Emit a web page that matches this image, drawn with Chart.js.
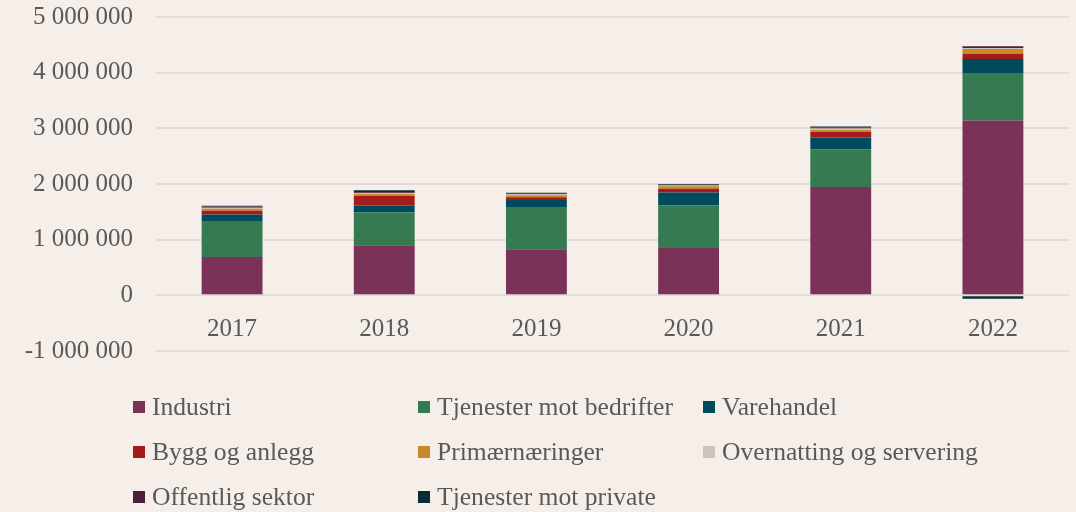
<!DOCTYPE html>
<html lang="no">
<head>
<meta charset="utf-8">
<title>Investeringer etter næring</title>
<script src="https://cdn.jsdelivr.net/npm/chart.js@4/dist/chart.umd.min.js"></script>
<style>
  html, body { margin: 0; padding: 0; background: #f6efe9; }
  #wrap { position: relative; width: 1076px; height: 512px; overflow: hidden; }
  #box { position: absolute; left: 0; top: -21px; width: 1076px; height: 410px; }
  #legend { position: absolute; left: 0; top: 0; width: 1076px; height: 512px; pointer-events: none; }
  .item { position: absolute; display: flex; align-items: center; height: 30px;
    font-family: "Liberation Serif", "Times New Roman", serif; font-size: 25.6px; color: #595959; white-space: nowrap; }
  .item i { display: inline-block; width: 12px; height: 12px; margin-right: 7px; }
</style>
</head>
<body>
<div id="wrap">
  <div id="box"><canvas id="chart"></canvas></div>
  <div id="legend"></div>
</div>
<script>
(function () {
  'use strict';

  var years = ['2017', '2018', '2019', '2020', '2021', '2022'];
  var seriesNames = [
    'Industri', 'Tjenester mot bedrifter', 'Varehandel',
    'Bygg og anlegg', 'Primærnæringer', 'Overnatting og servering',
    'Offentlig sektor', 'Tjenester mot private'
  ];
  var industri = [690000, 900000, 826000, 850000, 1944000, 3140000];
  var tjenesterBedrifter = [630000, 590000, 760000, 770000, 677000, 855000];
  var varehandel = [130000, 126000, 126000, 228000, 215000, 250000];
  var byggAnlegg = [70000, 167000, 48000, 65000, 100000, 96000];
  var primaer = [35000, 36000, 36000, 48000, 36000, 84000];
  var overnatting = [20000, 18000, 18000, 13000, 24000, 18000];
  var offentlig = [20000, 15000, 12000, 10000, 18000, 30000];
  var tjenesterPrivate = [15000, 35000, 18000, 10000, 18000, -60000];
  var yTicks = [-1000000, 0, 1000000, 2000000, 3000000, 4000000, 5000000];

  var seriesValues = [industri, tjenesterBedrifter, varehandel, byggAnlegg,
    primaer, overnatting, offentlig, tjenesterPrivate];
  var colors = ['#7a3258', '#367a52', '#004a5e', '#a31b1b',
    '#c8892b', '#cbc3bc', '#4b1f39', '#0b2b36'];

  function fmt(v) {
    return String(v).replace(/\B(?=(\d{3})+(?!\d))/g, ' ');
  }

  var datasets = seriesNames.map(function (name, i) {
    return {
      label: name,
      data: seriesValues[i],
      backgroundColor: colors[i],
      borderWidth: 0,
      barPercentage: 0.8,
      categoryPercentage: 0.5
    };
  });

  var tickFont = { family: '"Liberation Serif", "Times New Roman", serif', size: 25 };

  new Chart(document.getElementById('chart'), {
    type: 'bar',
    data: { labels: years, datasets: datasets },
    options: {
      responsive: true,
      maintainAspectRatio: false,
      animation: false,
      layout: { padding: { top: 16, right: 7, bottom: 12, left: 0 } },
      plugins: { legend: { display: false }, tooltip: { enabled: false } },
      scales: {
        x: {
          stacked: true,
          position: { y: 0 },
          grid: { display: false, drawTicks: false },
          border: { display: false },
          ticks: { color: '#595959', font: tickFont, padding: 19 }
        },
        y: {
          stacked: true,
          min: -1000000,
          max: 5000000,
          afterFit: function (scale) { scale.width = 156; },
          afterBuildTicks: function (scale) {
            scale.ticks = yTicks.map(function (v) { return { value: v }; });
          },
          grid: { color: '#e0dcdb', lineWidth: 2, drawTicks: false },
          border: { display: false },
          ticks: {
            color: '#595959', font: tickFont, padding: 23,
            callback: function (v) { return fmt(v); }
          }
        }
      }
    }
  });

  // legend in three columns, like the original
  var legend = document.getElementById('legend');
  var colX = [133, 418, 703];
  var rowY = [392, 437, 482];
  seriesNames.forEach(function (name, i) {
    var el = document.createElement('div');
    el.className = 'item';
    el.style.left = colX[i % 3] + 'px';
    el.style.top = rowY[Math.floor(i / 3)] + 'px';
    el.innerHTML = '<i style="background:' + colors[i] + '"></i>';
    el.appendChild(document.createTextNode(name));
    legend.appendChild(el);
  });
})();
</script>
</body>
</html>
